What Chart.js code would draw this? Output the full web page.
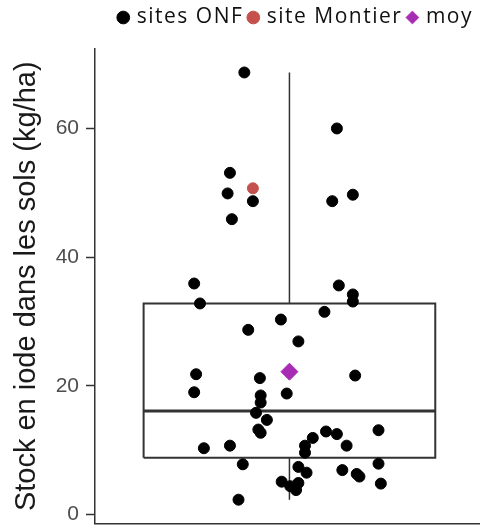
<!DOCTYPE html>
<html>
<head>
<meta charset="utf-8">
<script src="https://cdn.jsdelivr.net/npm/chart.js@4/dist/chart.umd.min.js"></script>
<style>
  html, body { margin: 0; padding: 0; background: #fff; }
</style>
</head>
<body>
<canvas id="stock" width="480" height="525"></canvas>
<script>
// sites ONF : décalage horizontal (jitter) et stock en iode (kg/ha)
const onfJitter = [
  0.884, 0.847, 0.841, 0.906, 0.852, 0.755, 1.122, 1.110, 1.163, 1.127,
  1.163, 1.163, 0.770, 1.090, 0.978, 0.894, 1.023, 0.760, 0.924, 1.169,
  0.755, 0.993, 0.926, 0.926, 0.914, 0.942, 0.920, 0.926, 1.229, 1.094,
  1.122, 1.060, 1.147, 1.040, 1.040, 0.847, 0.780, 0.880, 1.023, 1.044,
  1.136, 1.173, 1.180, 1.229, 1.235, 0.980, 1.002, 1.023, 1.017, 0.869
];
const onfStock = [
  68.7, 53.1, 49.9, 48.7, 45.9, 35.9, 60.0, 48.7, 49.7, 35.6,
  34.2, 33.1, 32.8, 31.5, 30.3, 28.7, 26.9, 21.8, 21.2, 21.6,
  19.0, 18.8, 18.5, 17.4, 15.8, 14.7, 13.2, 12.7, 13.1, 12.9,
  12.5, 11.9, 10.7, 10.7, 9.6, 10.7, 10.3, 7.8, 7.4, 6.5,
  6.9, 6.3, 5.9, 7.9, 4.8, 5.1, 4.4, 4.9, 3.8, 2.3
];

// site Montier
const montierJitter = [0.906];
const montierStock = [50.7];

// moyenne
const moyStock = [22.2];

// boîte : min, Q1, médiane, Q3, max
const boxStats = [2.3, 8.8, 16.1, 32.8, 68.7];

const yTicks = [0, 20, 40, 60];

const ink = "#333333";
const [lo, q1, med, q3, hi] = boxStats;
const boxLeft = 0.625;
const boxRight = 1.375;

const toPoints = (xs, ys) => ys.map((y, i) => ({ x: xs[i], y: y }));

const boxLine = (data, width) => ({
  type: "line",
  data: data,
  borderColor: ink,
  borderWidth: width,
  borderJoinStyle: "miter",
  pointRadius: 0,
  fill: false,
  spanGaps: false,
  order: 3,
});

// légende : un peu d'espace dessous et des lettres plus espacées
const legendSpacing = {
  id: "legendSpacing",
  beforeInit(chart) {
    const legend = chart.legend;
    const fit = legend.fit.bind(legend);
    const draw = legend.draw.bind(legend);
    legend.fit = function () {
      chart.ctx.letterSpacing = "1.5px";
      fit();
      chart.ctx.letterSpacing = "0px";
      this.height += 11;
    };
    legend.draw = function () {
      chart.ctx.letterSpacing = "1.5px";
      draw();
      chart.ctx.letterSpacing = "0px";
    };
  },
};

new Chart(document.getElementById("stock"), {
  type: "scatter",
  data: {
    datasets: [
      {
        label: "sites ONF",
        data: toPoints(onfJitter, onfStock),
        backgroundColor: "#000000",
        borderColor: "#000000",
        pointStyle: "circle",
        pointRadius: 5.5,
        order: 2,
      },
      {
        label: "site Montier",
        data: toPoints(montierJitter, montierStock),
        backgroundColor: "#C4514B",
        borderColor: "#C4514B",
        pointStyle: "circle",
        pointRadius: 5.5,
        order: 1,
      },
      {
        label: "moy",
        data: moyStock.map((y) => ({ x: 1, y: y })),
        backgroundColor: "#A82BB4",
        borderColor: "#A82BB4",
        pointStyle: "rectRot",
        pointRadius: 8.5,
        order: 0,
      },
      // boîte
      boxLine(
        [
          { x: boxLeft, y: q1 },
          { x: boxLeft, y: q3 },
          { x: boxRight, y: q3 },
          { x: boxRight, y: q1 },
          { x: boxLeft, y: q1 },
        ],
        2
      ),
      // médiane
      boxLine(
        [
          { x: boxLeft, y: med },
          { x: boxRight, y: med },
        ],
        3
      ),
      // moustaches
      boxLine(
        [
          { x: 1, y: q3 },
          { x: 1, y: hi },
          { x: 1, y: null },
          { x: 1, y: q1 },
          { x: 1, y: lo },
        ],
        1.5
      ),
    ],
  },
  options: {
    responsive: false,
    animation: false,
    devicePixelRatio: 1,
    layout: {
      autoPadding: false,
      padding: { top: 0, left: 0, right: 0, bottom: 1.5 },
    },
    plugins: {
      tooltip: { enabled: false },
      legend: {
        position: "top",
        align: "end",
        labels: {
          usePointStyle: true,
          boxHeight: 9,
          boxWidth: 6,
          padding: 7,
          color: "#111111",
          font: { family: "Open Sans", size: 21 },
          filter: (item) => !!item.text,
          sort: (a, b) => a.datasetIndex - b.datasetIndex,
        },
      },
    },
    scales: {
      x: {
        type: "linear",
        min: 0.5,
        max: 1.49,
        afterFit: (s) => {
          s.height = 0;
        },
        ticks: { display: false },
        grid: { display: false, drawTicks: false },
        border: { display: true, color: ink, width: 1.5 },
      },
      y: {
        min: -1.4,
        max: 72.35,
        afterBuildTicks: (s) => {
          s.ticks = yTicks.map((v) => ({ value: v }));
        },
        afterFit: (s) => {
          s.width = 95;
          s.paddingTop = 0;
          s.paddingBottom = 0;
        },
        grid: {
          display: true,
          drawOnChartArea: false,
          drawTicks: true,
          tickLength: 9,
          tickColor: ink,
          tickWidth: 1.5,
        },
        border: { display: true, color: ink, width: 1.5 },
        ticks: {
          color: "#4D4D4D",
          font: { family: "Liberation Sans", size: 21 },
          padding: 7,
        },
        title: {
          display: true,
          text: "Stock en iode dans les sols (kg/ha)",
          color: "#1A1A1A",
          font: { family: "Liberation Sans", size: 29 },
          padding: { top: 10, bottom: 0 },
        },
      },
    },
  },
  plugins: [legendSpacing],
});
</script>
</body>
</html>
